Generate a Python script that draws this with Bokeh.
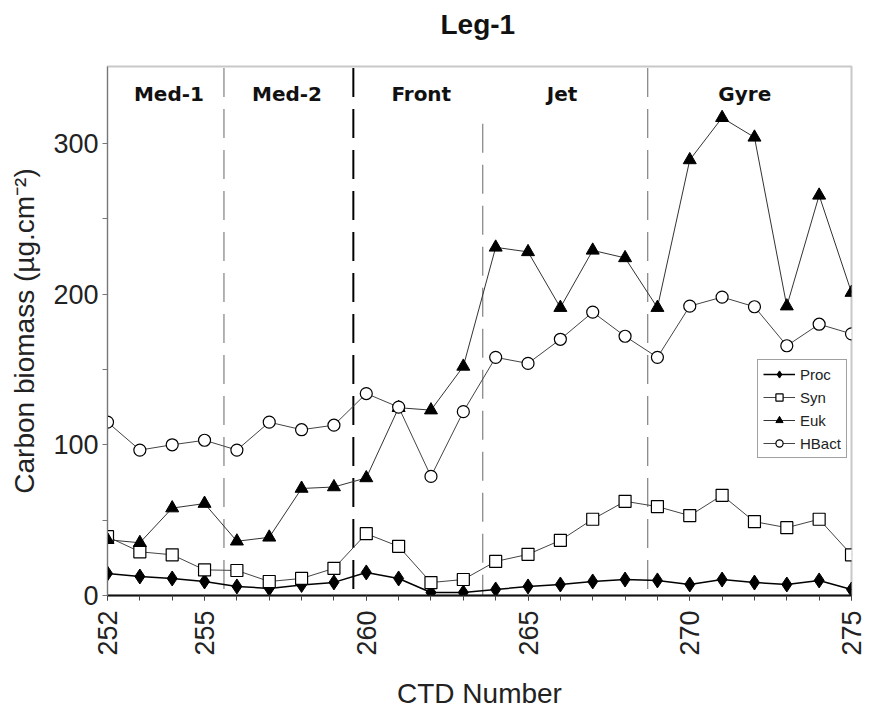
import math
from bokeh.plotting import figure
from bokeh.models import (Range1d, FixedTicker, Legend, LegendItem,
                          ColumnDataSource, Title)
from bokeh.core.properties import value
from bokeh.embed import file_html
from bokeh.resources import INLINE

# ---------------- data ----------------
ctd = list(range(252, 276))
proc = [14.6, 12.6, 11.3, 9.3, 6, 4.7, 7, 8.7, 15.3, 11.3, 2, 2,
        4, 6, 7.3, 9.3, 10.6, 10, 7.3, 10.6, 8.6, 7.3, 10, 4]
syn = [39, 29, 27, 17, 16.6, 9.3, 11.3, 18, 41, 32.6, 8.6, 10.6,
       22.6, 27.3, 36.6, 50.6, 62.5, 59, 53, 66.5, 49, 45, 50.6, 27]
euk = [37, 35, 58, 61, 36, 38.6, 71, 72, 78, 124.6, 123, 152,
       231, 228, 191, 229, 224, 191, 289, 317, 304, 192, 265.5, 201]
hbact = [115, 96.5, 100, 103, 96.5, 115, 110, 113, 134, 125, 79, 122,
         158, 154, 170, 188, 172, 158, 192, 198, 191.6, 165.7, 180, 173.6]

region_names = ["Med-1", "Med-2", "Front", "Jet", "Gyre"]
region_centers = [253.9, 257.55, 261.7, 266.05, 271.7]
boundaries = [255.6, 259.6, 263.6, 268.7]
boundary_tops = [350, 350, 313, 350]

x_major = [252, 255, 260, 265, 270, 275]
y_major = [0, 100, 200, 300]
y_minor = [50, 150, 250]

FONT = "Liberation Sans"
FRAME_W, FRAME_H = 744, 529

p = figure(frame_width=FRAME_W, frame_height=FRAME_H,
           x_range=Range1d(252, 275), y_range=Range1d(0, 351),
           output_backend="svg", toolbar_location=None,
           min_border_left=107, min_border_right=16, min_border_top=66,
           min_border_bottom=112, background_fill_color="white",
           border_fill_color="white")
p.grid.visible = False
p.outline_line_color = "#c8c8c8"
p.outline_line_width = 2

# spacer between frame and title, then the title itself
p.add_layout(Title(text=" ", text_font_size="1px", standoff=19), "above")
p.add_layout(Title(text="Leg-1", align="left", offset=333, standoff=10,
                   text_font=FONT, text_font_size="28px",
                   text_font_style="bold", text_color="#111111"), "above")

# axes
xa = p.xaxis[0]
xa.ticker = FixedTicker(ticks=x_major, minor_ticks=ctd)
xa.major_label_orientation = math.pi / 2
xa.axis_label = "CTD Number"
ya = p.yaxis[0]
ya.ticker = FixedTicker(ticks=y_major, minor_ticks=y_minor)
ya.axis_label = "Carbon biomass (\u00b5g.cm\u207b\u00b2)"
for ax in (xa, ya):
    ax.major_label_text_font = FONT
    ax.major_label_text_font_size = "27px"
    ax.major_label_text_color = "#222222"
    ax.axis_label_text_font = FONT
    ax.axis_label_text_font_size = "28px"
    ax.axis_label_text_font_style = "normal"
    ax.axis_label_text_color = "#222222"
    ax.major_tick_in = 0
    ax.major_tick_out = 5
    ax.minor_tick_in = 0
    ax.minor_tick_out = 5
xa.axis_line_color = "#111111"
xa.axis_line_width = 2
xa.major_tick_line_color = "#444444"
xa.minor_tick_line_color = "#444444"
xa.major_label_standoff = 10
xa.axis_label_standoff = 19
ya.axis_line_color = "#777777"
ya.major_tick_line_color = "#777777"
ya.minor_tick_line_color = "#777777"
ya.major_label_standoff = 4
ya.axis_label_standoff = 10

# region boundaries
bsrc = ColumnDataSource(dict(
    x=boundaries, y0=boundary_tops, y1=[0] * len(boundaries),
    color=["#808080", "#000000", "#808080", "#808080"],
    width=[1.2, 2, 1.2, 1.2]))
p.segment(x0="x", y0="y0", x1="x", y1="y1", source=bsrc,
          line_color="color", line_width="width", line_dash="29 12")

# region labels
p.text(x=region_centers, y=[333] * len(region_names), text=region_names,
       text_font=value("DejaVu Sans"), text_font_style="bold",
       text_font_size="20px", text_align="center", text_baseline="middle",
       text_color="#111111")

# series
items = []
l1 = p.line(ctd, proc, line_color="black", line_width=1.5)
m1 = p.scatter(ctd, proc, marker="diamond", size=15, fill_color="black",
               line_color="black")
items.append(LegendItem(label="Proc", renderers=[l1, m1]))

l2 = p.line(ctd, syn, line_color="#444444", line_width=1)
m2 = p.scatter(ctd, syn, marker="square", size=12, fill_color="white",
               line_color="black", line_width=1.2)
items.append(LegendItem(label="Syn", renderers=[l2, m2]))

l3 = p.line(ctd, euk, line_color="#333333", line_width=1)
m3 = p.scatter(ctd, euk, marker="triangle", size=13, fill_color="black",
               line_color="black")
items.append(LegendItem(label="Euk", renderers=[l3, m3]))

l4 = p.line(ctd, hbact, line_color="#444444", line_width=1)
m4 = p.scatter(ctd, hbact, marker="circle", size=12, fill_color="white",
               line_color="black", line_width=1.2)
items.append(LegendItem(label="HBact", renderers=[l4, m4]))

leg = Legend(items=items, location=(650, 137))
leg.label_text_font = FONT
leg.label_text_font_size = "15px"
leg.label_text_color = "#222222"
leg.glyph_width = 32
leg.glyph_height = 18
leg.label_height = 18
leg.label_standoff = 5
leg.spacing = 5
leg.padding = 5
leg.margin = 0
leg.border_line_color = "#444444"
leg.border_line_width = 1.5
leg.background_fill_alpha = 1
p.add_layout(leg)

open("out.html", "w").write(file_html(p, INLINE))
